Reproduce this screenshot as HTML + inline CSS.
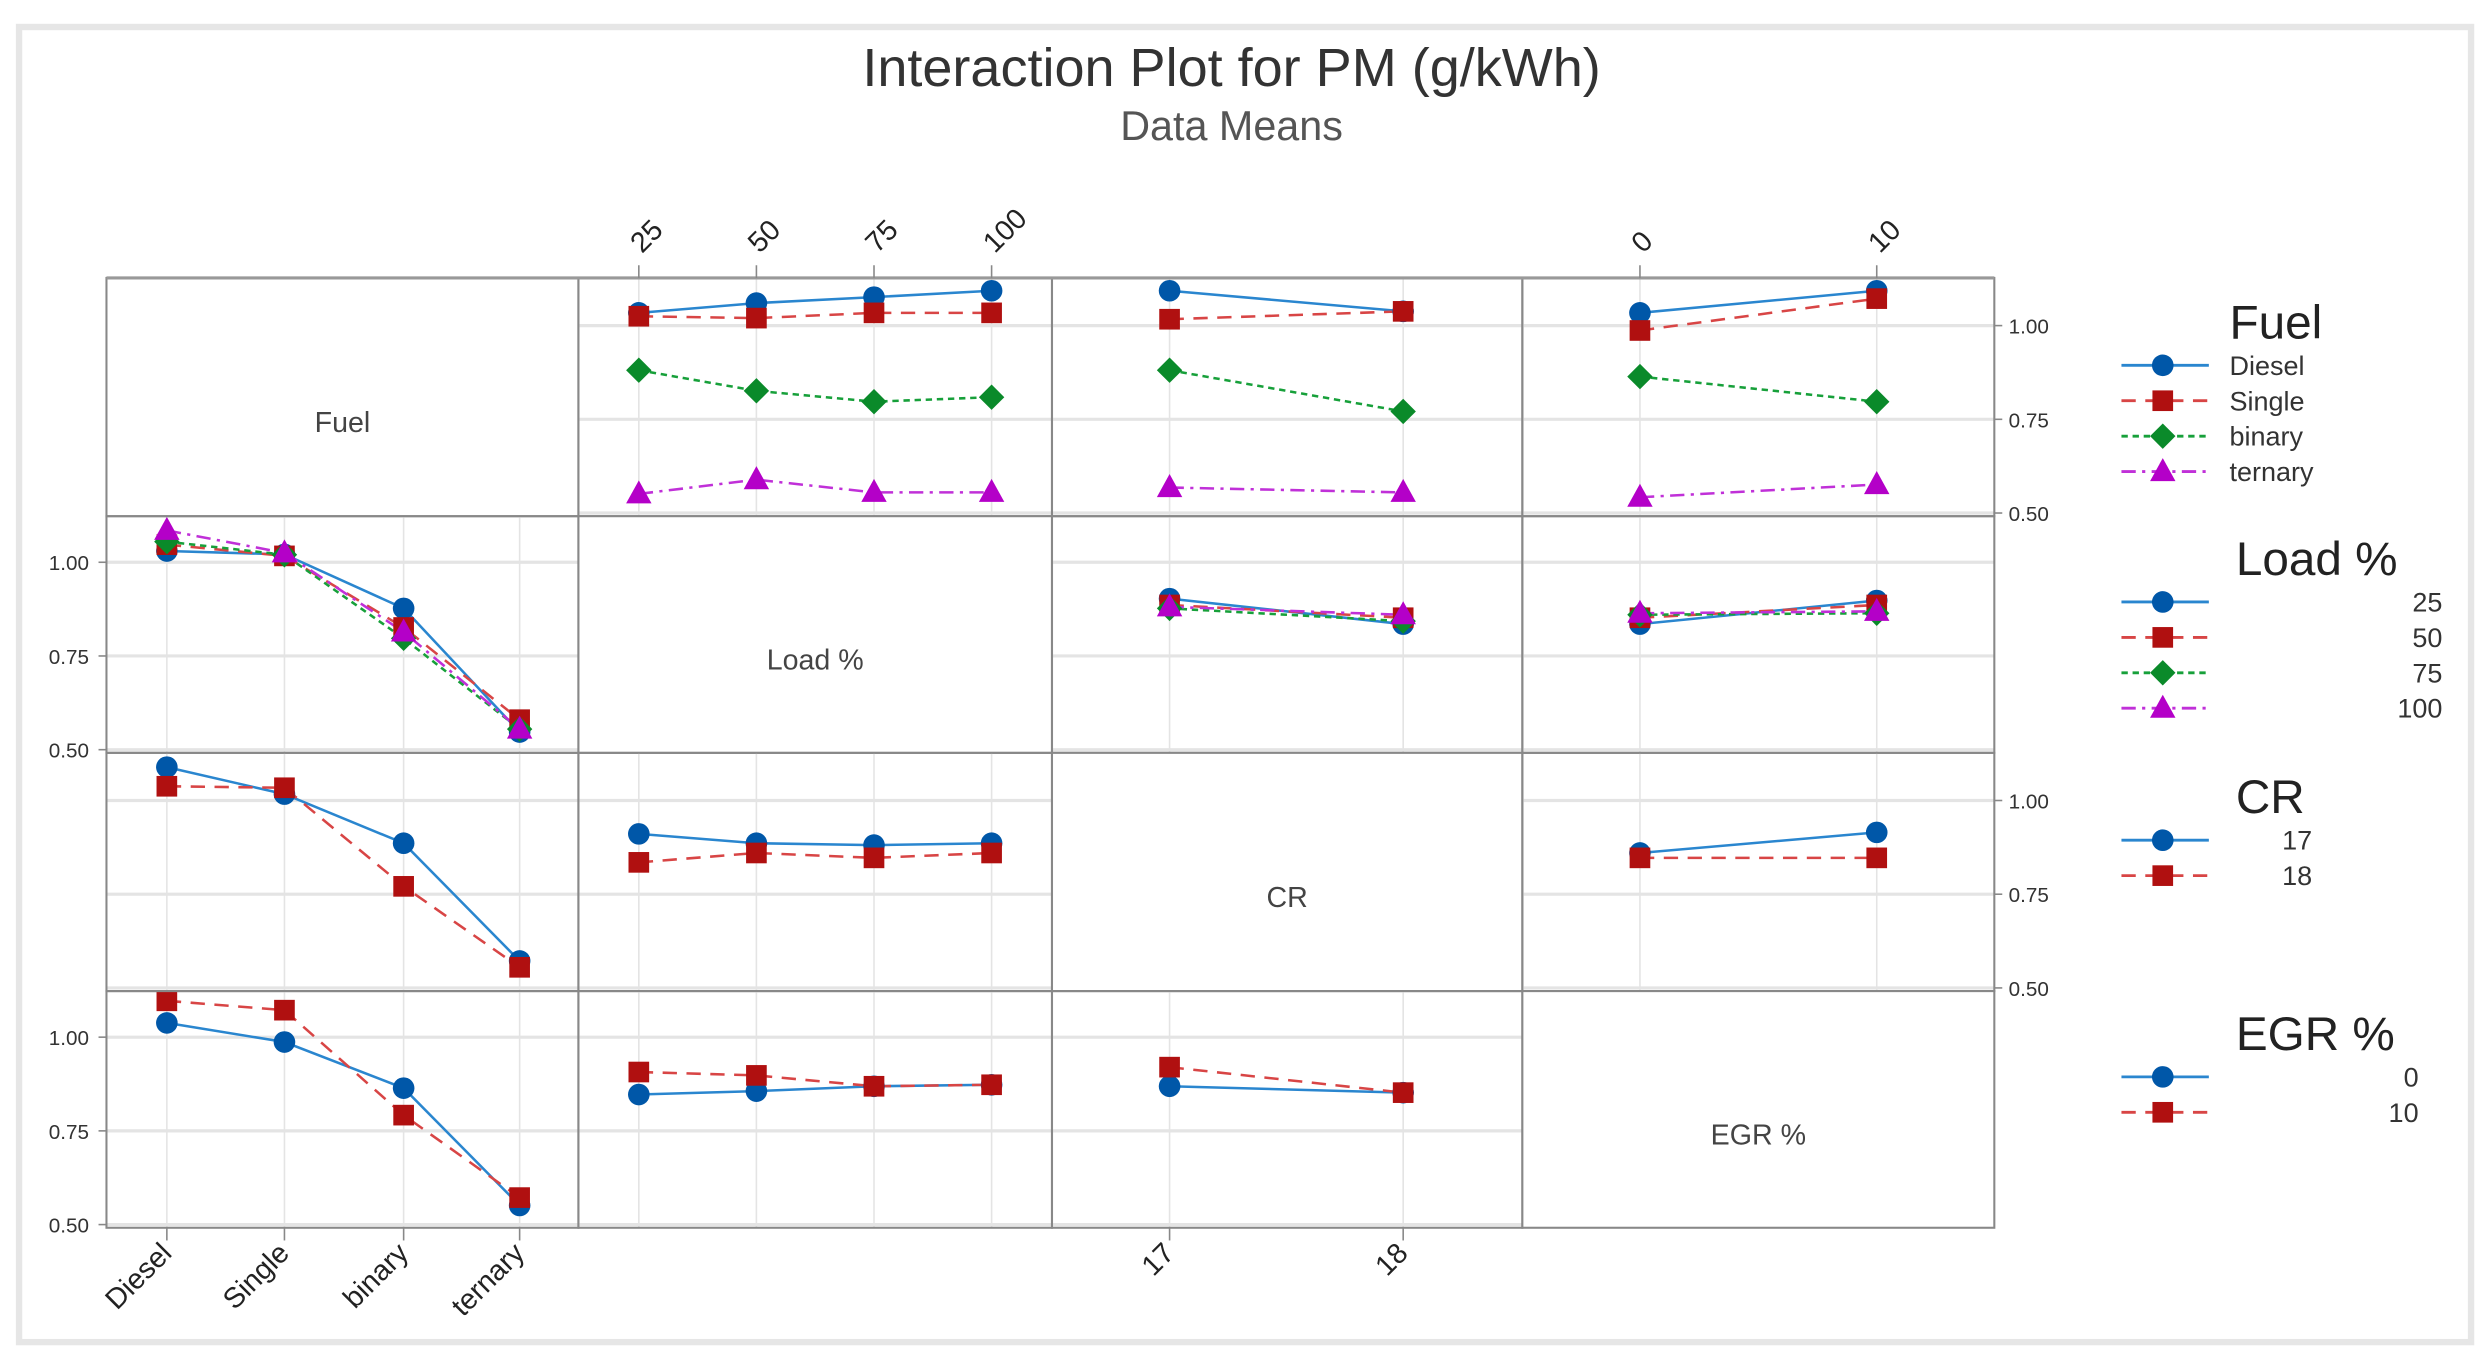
<!DOCTYPE html>
<html><head><meta charset="utf-8"><title>Interaction Plot for PM</title>
<style>
html,body{margin:0;padding:0;background:#fff;}
svg{display:block;font-family:"Liberation Sans","DejaVu Sans",sans-serif;}
</style></head>
<body>
<svg id="chart" width="2479" height="1358" viewBox="0 0 1560 855" preserveAspectRatio="none" xmlns="http://www.w3.org/2000/svg">
<rect x="0" y="0" width="1560" height="855" fill="#fff"/>
<rect x="12" y="17" width="1543" height="828" fill="#fff" stroke="#e6e6e6" stroke-width="4"/>
<text x="775" y="54" text-anchor="middle" font-size="34" fill="#333">Interaction Plot for PM (g/kWh)</text>
<text x="775" y="88" text-anchor="middle" font-size="26" fill="#555">Data Means</text>
<g id="plots"></g>
<g id="legends"></g>
</svg>
<script>
// factor names & levels
const factorNames = ["Fuel", "Load %", "CR", "EGR %"];
const fuelLevels = ["Diesel", "Single", "binary", "ternary"];
const loadLevels = ["25", "50", "75", "100"];
const crLevels = ["17", "18"];
const egrLevels = ["0", "10"];
const levels = [fuelLevels, loadLevels, crLevels, egrLevels];
const yTicks = [0.50, 0.75, 1.00];
const yTickLabels = ["0.50", "0.75", "1.00"];

// Row Fuel (traces: Diesel, Single, binary, ternary)
const fuelByLoad = [[1.034,1.06,1.076,1.093],[1.025,1.02,1.034,1.034],[0.881,0.826,0.797,0.809],[0.551,0.589,0.555,0.555]];
const fuelByCR = [[1.093,1.038],[1.017,1.038],[0.881,0.771],[0.568,0.555]];
const fuelByEGR = [[1.034,1.093],[0.987,1.072],[0.864,0.797],[0.542,0.576]];
// Row Load (traces: 25,50,75,100)
const loadByFuel = [[1.03,1.021,0.877,0.547],[1.047,1.017,0.826,0.58],[1.055,1.02,0.797,0.555],[1.085,1.025,0.814,0.555]];
const loadByCR = [[0.903,0.835],[0.886,0.852],[0.877,0.843],[0.881,0.86]];
const loadByEGR = [[0.835,0.898],[0.852,0.886],[0.86,0.864],[0.864,0.869]];
// Row CR (traces: 17,18)
const crByFuel = [[1.089,1.017,0.886,0.572],[1.038,1.034,0.771,0.555]];
const crByLoad = [[0.911,0.886,0.881,0.886],[0.835,0.86,0.847,0.86]];
const crByEGR = [[0.86,0.915],[0.847,0.847]];
// Row EGR (traces: 0,10)
const egrByFuel = [[1.038,0.987,0.864,0.551],[1.097,1.072,0.792,0.572]];
const egrByLoad = [[0.847,0.856,0.869,0.873],[0.907,0.898,0.869,0.873]];
const egrByCR = [[0.869,0.852],[0.92,0.852]];

const panelData = {
  "0-1": fuelByLoad, "0-2": fuelByCR, "0-3": fuelByEGR,
  "1-0": loadByFuel, "1-2": loadByCR, "1-3": loadByEGR,
  "2-0": crByFuel, "2-1": crByLoad, "2-3": crByEGR,
  "3-0": egrByFuel, "3-1": egrByLoad, "3-2": egrByCR
};

// layout
const colEdges = [67, 364, 662, 958, 1255];
const rowEdges = [175, 325, 474, 624, 773];
const colXPos = [[105,179,254,327],[402,476,550,624],[736,883],[1032,1181]];
const styles = [
  {marker:"circle", fill:"#0057a8", line:"#2a86cf", dash:""},
  {marker:"square", fill:"#b01010", line:"#d84545", dash:"9,6"},
  {marker:"diamond", fill:"#0a8a2a", line:"#17a03a", dash:"4,3"},
  {marker:"triangle", fill:"#b400c8", line:"#c030d8", dash:"9,4,2,4"}
];
const NS = "http://www.w3.org/2000/svg";
const plots = document.getElementById("plots");
const legends = document.getElementById("legends");
function mk(tag, attrs, parent){const e=document.createElementNS(NS,tag);for(const k in attrs)e.setAttribute(k,attrs[k]);parent.appendChild(e);return e;}
function yScale(r, v){return rowEdges[r+1] - 2 - (v - 0.5) * 236;}
function xScale(c, i){return colXPos[c][i];}

function marker(g, type, x, y, fill, s){
  let e;
  if(type==="circle") e=mk("circle",{cx:x,cy:y,r:6.8*s,fill:fill},g);
  else if(type==="square") e=mk("rect",{x:x-6.5*s,y:y-6.5*s,width:13*s,height:13*s,fill:fill},g);
  else if(type==="diamond") e=mk("polygon",{points:`${x},${y-8*s} ${x+8*s},${y} ${x},${y+8*s} ${x-8*s},${y}`,fill:fill},g);
  else e=mk("polygon",{points:`${x},${y-8.5*s} ${x+8*s},${y+6*s} ${x-8*s},${y+6*s}`,fill:fill},g);
  return e;
}

for(let r=0;r<4;r++){
  for(let c=0;c<4;c++){
    const g=mk("g",{},plots);
    
    
    const x0=colEdges[c], x1=colEdges[c+1], y0=rowEdges[r], y1=rowEdges[r+1];
    if(r===c){
      mk("rect",{x:x0,y:y0,width:x1-x0,height:y1-y0,fill:"#fff",stroke:"#888","stroke-width":1.3},g);
      const t=mk("text",{x:(x0+x1)/2,y:(y0+y1)/2+22,"text-anchor":"middle","font-size":18,fill:"#444"},g);
      t.textContent=factorNames[r];
      
      
      continue;
    }
    for(let i=0;i<colXPos[c].length;i++){
      mk("line",{x1:xScale(c,i),x2:xScale(c,i),y1:y0,y2:y1,stroke:"#e4e4e4","stroke-width":1},g);
    }
    for(const v of yTicks){
      mk("line",{x1:x0,x2:x1,y1:yScale(r,v),y2:yScale(r,v),stroke:"#e4e4e4","stroke-width":2},g);
    }
    const data=panelData[r+"-"+c];
    data.forEach((series,si)=>{
      const st=styles[si];
      const pts=series.map((v,i)=>xScale(c,i)+","+yScale(r,v)).join(" ");
      const pl=mk("polyline",{points:pts,fill:"none",stroke:st.line,"stroke-width":1.6,"stroke-dasharray":st.dash},g);
      
      
    });
    data.forEach((series,si)=>{
      const st=styles[si];
      series.forEach((v,i)=>{
        const m=marker(g,st.marker,xScale(c,i),yScale(r,v),st.fill,1);
        
        
      });
    });
    mk("rect",{x:x0,y:y0,width:x1-x0,height:y1-y0,fill:"none",stroke:"#888","stroke-width":1.3},g);
  }
}
mk("line",{x1:67,x2:1255,y1:175,y2:175,stroke:"#999","stroke-width":2},plots);

function yAxis(r, side){
  const g=mk("g",{},plots);
  
  
  yTicks.forEach((v,i)=>{
    const y=yScale(r,v);
    if(side==="left"){
      mk("line",{x1:62,x2:67,y1:y,y2:y,stroke:"#888"},g);
      const t=mk("text",{x:56,y:y+5,"text-anchor":"end","font-size":13,fill:"#333"},g);
      t.textContent=yTickLabels[i];
    } else {
      mk("line",{x1:1255,x2:1260,y1:y,y2:y,stroke:"#888"},g);
      const t=mk("text",{x:1264,y:y+5,"text-anchor":"start","font-size":13,fill:"#333"},g);
      t.textContent=yTickLabels[i];
    }
  });
}
yAxis(0,"right"); yAxis(1,"left"); yAxis(2,"right"); yAxis(3,"left");

function xAxis(c, side){
  const g=mk("g",{},plots);
  
  
  levels[c].forEach((lab,i)=>{
    const x=xScale(c,i);
    if(side==="top"){
      mk("line",{x1:x,x2:x,y1:167,y2:175,stroke:"#888"},g);
      const t=mk("text",{x:x+2,y:160,"text-anchor":"start","font-size":18,fill:"#222",transform:`rotate(-45 ${x+2} 160)`},g);
      t.textContent=lab;
    } else {
      mk("line",{x1:x,x2:x,y1:773,y2:781,stroke:"#888"},g);
      const t=mk("text",{x:x+4,y:790,"text-anchor":"end","font-size":18,fill:"#222",transform:`rotate(-45 ${x+4} 790)`},g);
      t.textContent=lab;
    }
  });
}
xAxis(0,"bottom"); xAxis(1,"top"); xAxis(2,"bottom"); xAxis(3,"top");

const legendTitleY = [213, 362, 512, 661];
const legendTextX = [[1403,"start"],[1537,"end"],[1455,"end"],[1522,"end"]];
for(let r=0;r<4;r++){
  const g=mk("g",{},legends);
  
  
  const tt=mk("text",{x:r===0?1403:1407,y:legendTitleY[r],"font-size":30,fill:"#222"},g);
  tt.textContent=factorNames[r];
  levels[r].forEach((lab,i)=>{
    const y=legendTitleY[r]+17+i*22.3;
    const st=styles[i];
    const e=mk("g",{},g);
    
    
    mk("line",{x1:1335,x2:1390,y1:y,y2:y,stroke:st.line,"stroke-width":1.8,"stroke-dasharray":st.dash},e);
    marker(e,st.marker,1361,y,st.fill,1);
    const t=mk("text",{x:legendTextX[r][0],y:y+6,"text-anchor":legendTextX[r][1],"font-size":17,fill:"#333"},e);
    t.textContent=lab;
  });
}
</script>
</body></html>
